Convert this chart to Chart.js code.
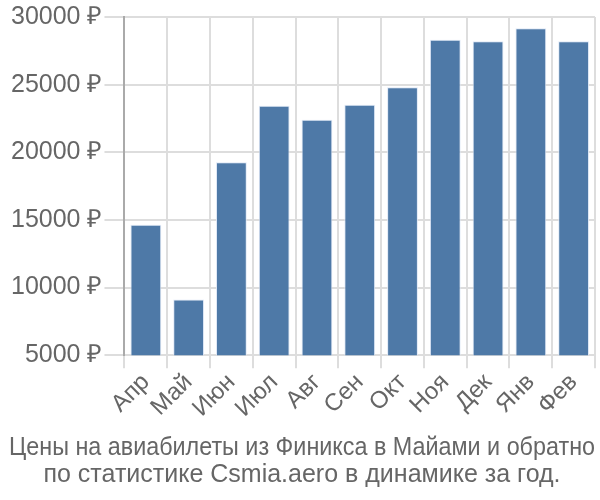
<!DOCTYPE html>
<html>
<head>
<meta charset="utf-8">
<script src="https://cdn.jsdelivr.net/npm/chart.js@4"></script>
<style>
  html,body{margin:0;padding:0;background:#fff;overflow:hidden}
  #wrap{width:600px;height:500px}
</style>
</head>
<body>
<div id="wrap"><canvas id="c" width="600" height="500"></canvas></div>
<script>
const months = ['Апр','Май','Июн','Июл','Авг','Сен','Окт','Ноя','Дек','Янв','Фев'];
const prices = [14650, 9110, 19270, 23440, 22410, 23510, 24810, 28310, 28210, 29170, 28210];
const titleLines = ['Цены на авиабилеты из Финикса в Майами и обратно', 'по статистике Csmia.aero в динамике за год.'];

const txt = '#666';
const grid = '#dddddd';
const fam = 'Liberation Sans';

new Chart(document.getElementById('c').getContext('2d'), {
  type: 'bar',
  data: {
    labels: months,
    datasets: [{
      data: prices,
      backgroundColor: 'rgb(78,121,167)',
      borderColor: 'rgba(220,230,245,0.9)',
      borderWidth: 1,
      barPercentage: 0.72,
      categoryPercentage: 1
    }]
  },
  options: {
    responsive: false,
    animation: false,
    layout: { padding: { top: 0, right: 5, left: 9, bottom: 0 } },
    plugins: {
      legend: { display: false },
      tooltip: { enabled: false },
      title: {
        display: true,
        position: 'bottom',
        text: titleLines,
        color: txt,
        font: { family: fam, size: 25, weight: 'normal', lineHeight: 1.08 },
        padding: { top: 12, bottom: 11 }
      }
    },
    scales: {
      x: {
        grid: { color: grid, lineWidth: 2, offset: true, tickLength: 13 },
        border: { color: grid, width: 2 },
        ticks: {
          color: txt, maxRotation: 45, minRotation: 45, padding: 0, autoSkip: false,
          font: { family: fam, size: 24 }
        }
      },
      y: {
        min: 5000, max: 30000,
        grid: { color: grid, lineWidth: 2, tickLength: 20 },
        border: { color: '#aaaaaa', width: 2 },
        ticks: {
          stepSize: 5000, color: txt, padding: 2,
          font: { family: fam, size: 25 },
          callback: v => v + ' ₽'
        }
      }
    }
  }
});
</script>
</body>
</html>
